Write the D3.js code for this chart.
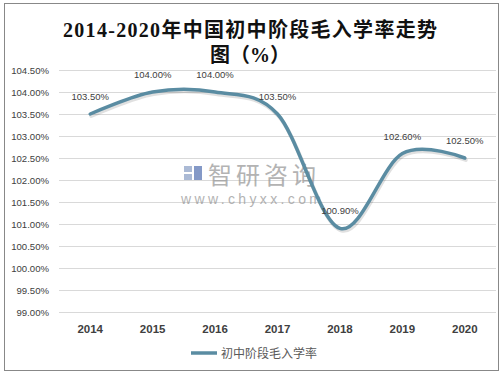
<!DOCTYPE html>
<html>
<head>
<meta charset="utf-8">
<script src="https://cdn.jsdelivr.net/npm/d3@7"></script>
<style>
html,body{margin:0;padding:0;background:#fff;}
svg{display:block;}
</style>
</head>
<body>
<script>
const categories = ["2014","2015","2016","2017","2018","2019","2020"];
const values = [103.5, 104.0, 104.0, 103.5, 100.9, 102.6, 102.5];
const yTicks = [99.0, 99.5, 100.0, 100.5, 101.0, 101.5, 102.0, 102.5, 103.0, 103.5, 104.0, 104.5];
const seriesName = "初中阶段毛入学率";
const titleLines = ["2014-2020年中国初中阶段毛入学率走势", "图（%）"];

const W = 503, H = 376;
const svg = d3.select("body").append("svg").attr("width", W).attr("height", H);

svg.append("rect").attr("x", 4.5).attr("y", 3.5).attr("width", 494).attr("height", 367)
  .attr("fill", "#fff").attr("stroke", "#888").attr("stroke-width", 1);

const plot = {left: 59, right: 496, top: 70, bottom: 312};
const x = d3.scaleBand().domain(categories).range([plot.left, plot.right]);
const y = d3.scaleLinear().domain([99, 104.5]).range([plot.bottom, plot.top]);

// gridlines
svg.append("g").selectAll("line").data(yTicks).join("line")
  .attr("x1", plot.left).attr("x2", plot.right)
  .attr("y1", d => Math.round(y(d)) + 0.5).attr("y2", d => Math.round(y(d)) + 0.5)
  .attr("stroke", "#d9d9d9").attr("stroke-width", 1);

// y axis
const yAxis = d3.axisLeft(y).tickValues(yTicks).tickSize(0).tickPadding(0)
  .tickFormat(d => d.toFixed(2) + "%");
const gy = svg.append("g").attr("transform", `translate(49,0)`).call(yAxis);
gy.select(".domain").remove();
gy.selectAll("text").attr("font-family", "Liberation Sans, Arial, sans-serif")
  .attr("font-size", 9.6).attr("fill", "#404040");

// x axis
const xAxis = d3.axisBottom(x).tickSize(0).tickPadding(0);
const gx = svg.append("g").attr("transform", `translate(0,${plot.bottom + 13})`).call(xAxis);
gx.select(".domain").remove();
gx.selectAll("text").attr("font-family", "Liberation Sans, Arial, sans-serif")
  .attr("font-size", 11.5).attr("font-weight", "bold").attr("fill", "#404040");

// watermark
const wm = svg.append("g").attr("opacity", 0.75);
wm.append("rect").attr("x", 184).attr("y", 166).attr("width", 8).attr("height", 6).attr("fill", "#8fa3c8");
wm.append("rect").attr("x", 184).attr("y", 174).attr("width", 8).attr("height", 6).attr("fill", "#8fa3c8");
wm.append("rect").attr("x", 194).attr("y", 166).attr("width", 8).attr("height", 14).attr("fill", "#5b78b5");
wm.append("text").attr("x", 208).attr("y", 184).attr("font-family", "Noto Sans CJK SC")
  .attr("font-size", 24).attr("fill", "#9a9a9a").attr("textLength", 108).attr("lengthAdjust", "spacing")
  .text("智研咨询");
wm.append("text").attr("x", 181).attr("y", 204).attr("font-family", "Liberation Sans, Arial, sans-serif")
  .attr("font-size", 14).attr("fill", "#9a9a9a").attr("textLength", 140).attr("lengthAdjust", "spacing")
  .text("www.chyxx.com");

// line
const cx = d => x(d) + x.bandwidth() / 2;
const line = d3.line().x((d, i) => cx(categories[i])).y(d => y(d)).curve(d3.curveCardinal.tension(0));
svg.append("path").datum(values).attr("d", line).attr("fill", "none")
  .attr("stroke", "#000").attr("stroke-opacity", 0.12).attr("stroke-width", 4)
  .attr("transform", "translate(1,2)").attr("stroke-linecap", "round");
svg.append("path").datum(values).attr("d", line).attr("fill", "none")
  .attr("stroke", "#5a8ca2").attr("stroke-width", 3.5).attr("stroke-linecap", "round");

// data labels
svg.append("g").selectAll("text").data(values).join("text")
  .attr("x", (d, i) => cx(categories[i]))
  .attr("y", d => y(d) - 14)
  .attr("text-anchor", "middle")
  .attr("font-family", "Liberation Sans, Arial, sans-serif")
  .attr("font-size", 9.5).attr("fill", "#404040")
  .text(d => d.toFixed(2) + "%");

// title
svg.append("g").selectAll("text").data(titleLines).join("text")
  .attr("x", 250).attr("y", (d, i) => 37 + i * 25)
  .attr("text-anchor", "middle")
  .attr("font-family", "Liberation Serif, DejaVu Serif, Noto Sans CJK SC, serif")
  .attr("font-size", 20).attr("font-weight", "bold").attr("fill", "#111")
  .each(function(d, i) { if (i === 0) d3.select(this).attr("textLength", 374).attr("lengthAdjust", "spacing"); })
  .text(d => d);

// legend
const lg = svg.append("g");
lg.append("line").attr("x1", 191).attr("x2", 217).attr("y1", 353).attr("y2", 353)
  .attr("stroke", "#5a8ca2").attr("stroke-width", 3.5);
lg.append("text").attr("x", 221).attr("y", 357.5)
  .attr("font-family", "Noto Sans CJK SC").attr("font-size", 12).attr("fill", "#595959")
  .text(seriesName);
</script>
</body>
</html>
